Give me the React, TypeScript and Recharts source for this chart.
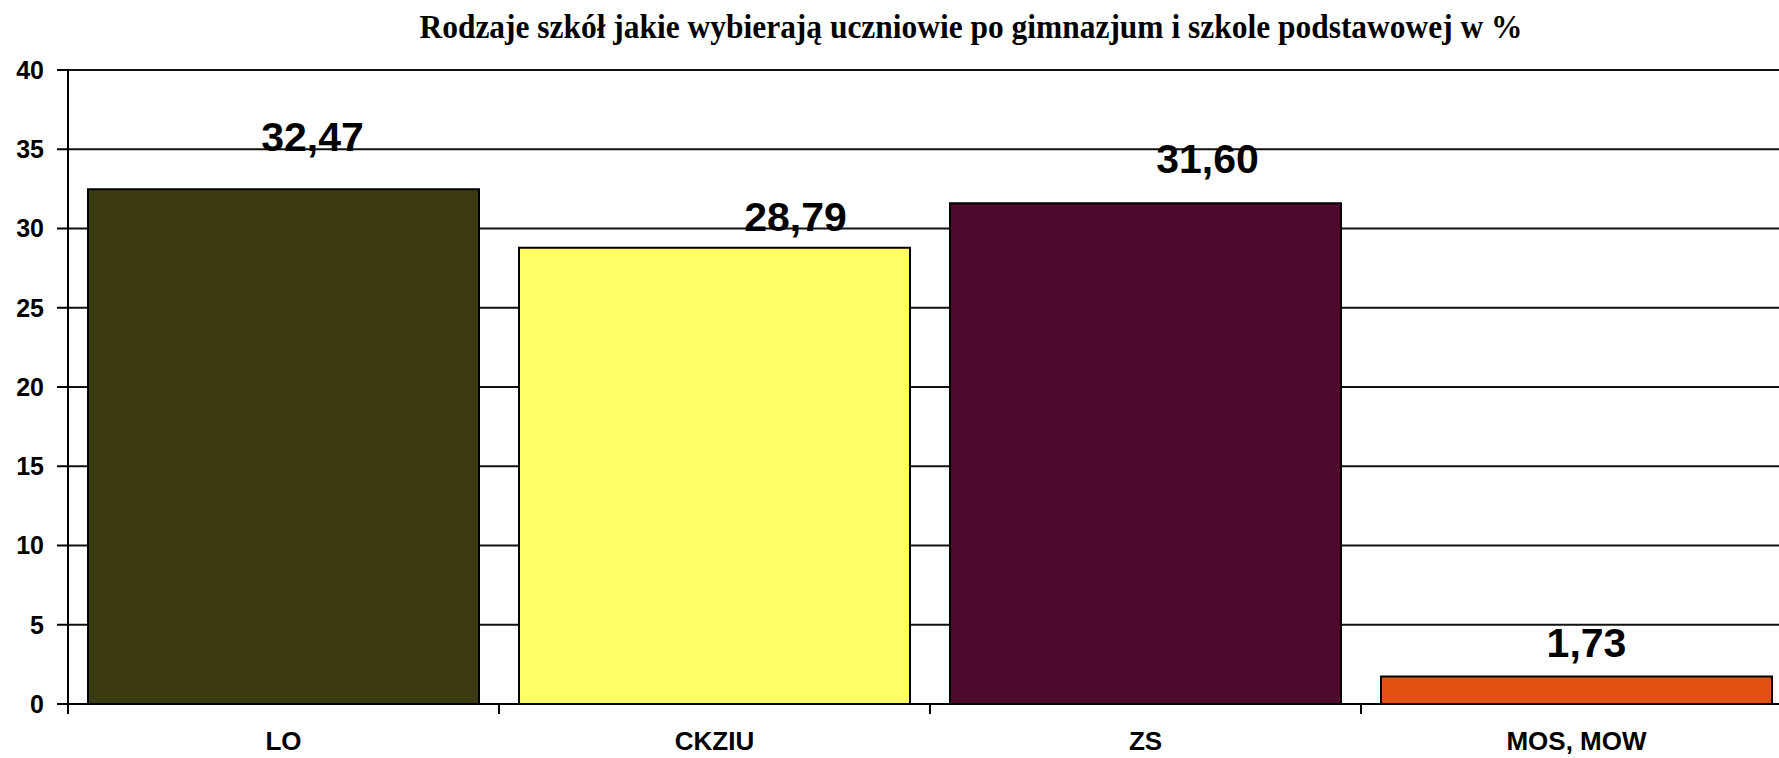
import { Bar, BarChart, CartesianGrid, Cell, LabelList, XAxis, YAxis } from "recharts";

const categories = ["LO", "CKZIU", "ZS", "MOS, MOW"];
const shares = [32.47, 28.79, 31.6, 1.73];
const valueLabels = ["32,47", "28,79", "31,60", "1,73"];
const yTicks = [0, 5, 10, 15, 20, 25, 30, 35, 40];

const title = "Rodzaje szkół jakie wybierają uczniowie po gimnazjum i szkole podstawowej w %";

const data = categories.map((name, i) => ({ name, value: shares[i], label: valueLabels[i] }));

// fills and hand-placed label nudges, as in the original sheet
const fills = ["#3c3a11", "#ffff66", "#4e0a2c", "#e2520e"];
const labelNudge = [
  { dx: 29, dy: -38 },
  { dx: 81, dy: -17 },
  { dx: 62, dy: -30 },
  { dx: 10, dy: -20 },
];

const AXIS_FONT = "Arial, 'Liberation Sans', sans-serif";

function CategoryTick(props: any) {
  const { x, y, payload, index } = props;
  const half = payload?.offset ?? 0;
  return (
    <g>
      {index === 0 ? <line x1={x - half} x2={x - half} y1={y} y2={y + 10} stroke="#000" strokeWidth={2} /> : null}
      <line x1={x + half} x2={x + half} y1={y} y2={y + 10} stroke="#000" strokeWidth={2} />
      <text
        x={x}
        y={y + 46}
        textAnchor="middle"
        fontFamily={AXIS_FONT}
        fontWeight="bold"
        fontSize={26}
        fill="#000"
      >
        {payload.value}
      </text>
    </g>
  );
}

function ValueLabel(props: any) {
  const { x, y, width, index, value } = props;
  const n = labelNudge[index] ?? { dx: 0, dy: -10 };
  return (
    <text
      x={x + width / 2 + n.dx}
      y={y + n.dy}
      textAnchor="middle"
      fontFamily={AXIS_FONT}
      fontWeight="bold"
      fontSize={41}
      fill="#000"
    >
      {value}
    </text>
  );
}

export default function App() {
  return (
    <div
      style={{
        position: "absolute",
        left: 0,
        top: 0,
        width: 1779,
        height: 758,
        overflow: "hidden",
        background: "#fff",
      }}
    >
      <BarChart
        width={1792}
        height={758}
        data={data}
        margin={{ top: 70, right: 0, bottom: 0, left: 0 }}
        barCategoryGap={20}
      >
        <CartesianGrid vertical={false} stroke="#111" strokeWidth={2} />
        <XAxis
          dataKey="name"
          height={54}
          axisLine={{ stroke: "#000", strokeWidth: 2 }}
          tickLine={false}
          tickSize={0}
          tickMargin={0}
          interval={0}
          tick={<CategoryTick />}
        />
        <YAxis
          width={68}
          domain={[0, 40]}
          ticks={yTicks}
          interval={0}
          axisLine={{ stroke: "#000", strokeWidth: 2 }}
          tickLine={{ stroke: "#000", strokeWidth: 2 }}
          tickSize={11}
          tickMargin={13}
          tick={{ fontFamily: AXIS_FONT, fontWeight: "bold", fontSize: 25, fill: "#000" }}
        />
        <Bar dataKey="value" stroke="#000" strokeWidth={2} isAnimationActive={false}>
          {data.map((d, i) => (
            <Cell key={d.name} fill={fills[i]} />
          ))}
          <LabelList dataKey="label" content={<ValueLabel />} />
        </Bar>
      </BarChart>
      <svg width={1779} height={60} style={{ position: "absolute", left: 0, top: 0 }}>
        <text
          x={971}
          y={38}
          textAnchor="middle"
          fontFamily="'Liberation Serif', 'Times New Roman', serif"
          fontWeight="bold"
          fontSize={34}
          textLength={1103}
          lengthAdjust="spacingAndGlyphs"
          fill="#000"
        >
          {title}
        </text>
      </svg>
    </div>
  );
}
